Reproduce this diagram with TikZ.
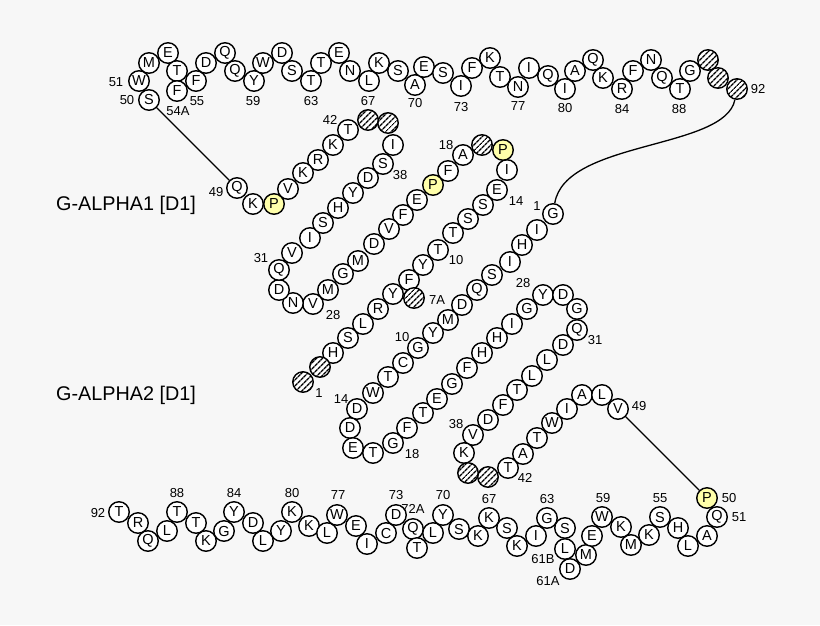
\documentclass[tikz,border=0pt]{standalone}
\usepackage{fontspec}
\setmainfont{Liberation Sans}
\usetikzlibrary{patterns.meta}
\definecolor{bg}{RGB}{247,247,247}
\definecolor{pyel}{RGB}{255,255,170}
\begin{document}
\begin{tikzpicture}[x=1pt,y=-1pt,
  res/.style={circle,draw=black,line width=1.4pt,fill=white,minimum size=20.5pt,inner sep=0pt,font=\fontsize{14.5}{15}\selectfont},
  pro/.style={res,fill=pyel},
  hat/.style={circle,draw=black,line width=1.4pt,minimum size=20.5pt,inner sep=0pt,preaction={fill=white},pattern={Lines[angle=45,distance=4pt,line width=1.5pt]}},
  num/.style={font=\fontsize{13}{14}\selectfont,inner sep=0pt},
  ttl/.style={font=\fontsize{19.8}{22}\selectfont,inner sep=0pt},
  link/.style={line width=1.3pt}]
\fill[bg] (0,0) rectangle (820,625);
% titles
\node[ttl] (title1) at (126,205) {G-ALPHA1 [D1]};
\node[ttl] (title2) at (126,395) {G-ALPHA2 [D1]};
% number labels
\foreach \x/\y/\t [count=\i] in {116/82/51,127/100/50,178/111/54A,197/101/55,253/101/59,311/101/63,368/101/67,415/103/70,461/107/73,518/106/77,565/108/80,622/109/84,679/109/88,758/89/92,
330/120/42,400/175/38,216/192/49,446/145/18,516/201/14,537/206/1,261/258/31,333/315/28,437/300/7A,456/260/10,402/337/10,523/283/28,595/340/31,319/393/1,341/399/14,412/454/18,456/424/38,525/478/42,639/406/49,
98/513/92,177/493/88,234/493/84,292/493/80,338/495/77,396/495/73,413/509/72A,443/495/70,489/499/67,547/499/63,543/559/61B,548/581/61A,603/498/59,660/498/55,739/517/51,729/498/50}
  \node[num] (lab\i) at (\x,\y) {\t};
% top row
\foreach \n/\x/\y/\t in {t50/149/100/S,t51/139/81/W,t52/149/63/M,t53/168/53/E,t54/177/71/T,t54a/177/91/F,t55/196/81/F,t56/206/63/D,t57/225/53/Q,t58/235/71/Q,t59/254/81/Y,t60/263/63/W,t61/282/53/D,t62/292/71/S,t63/311/81/T,t64/321/63/T,t65/339/53/E,t66/350/71/N,t67/369/81/L,t68/379/63/K,t69/398/71/S,t70/415/85/A,t71/424/67/E,t72/443/73/S,t73/461/86/I,t74/472/68/F,t75/490/58/K,t76/500/77/T,t77/518/87/N,t78/529/68/I,t79/548/76/Q,t80/565/89/I,t81/575/71/A,t82/593/60/Q,t83/603/78/K,t84/622/89/R,t85/633/71/F,t86/651/60/N,t87/662/78/Q,t88/680/89/T,t89/690/71/G}
  \node[res] (\n) at (\x,\y) {\t};
\foreach \n/\x/\y in {t90/708/60,t91/718/78,t92/737/89}
  \node[hat] (\n) at (\x,\y) {};
% middle chain C
\foreach \n/\x/\y/\t in {c3/333/353/H,c4/348/338/S,c5/363/324/L,c6/378/309/R,c7/393/294/Y,c8/409/280/F,c9/423/265/Y,c10/438/250/T,c11/453/233/T,c12/468/219/S,c13/483/205/S,c14/497/190/E,c15/507/170/I,c18/463/155/A,c19/448/171/F,c21/417/200/E,c22/403/215/F,c23/389/229/V,c24/374/244/D,c25/358/261/M,c26/343/274/G,c27/328/290/M,c28/313/304/V,c29/293/303/N,c30/279/290/D,c31/279/270/Q,c32/292/253/V,c33/310/238/I,c34/323/223/S,c35/338/208/H,c36/353/193/Y,c37/368/178/D,c38/383/164/S,c39/393/145/I,c42/348/130/T,c43/333/145/K,c44/318/160/R,c45/303/173/K,c46/288/189/V,c48/253/204/K,c49/237/188/Q}
  \node[res] (\n) at (\x,\y) {\t};
\foreach \n/\x/\y in {c1/303/382,c2/320/367,c7a/414/298,c17/482/145,c40/388/123,c41/368/120}
  \node[hat] (\n) at (\x,\y) {};
\foreach \n/\x/\y in {c16/503/150,c20/433/185,c47/274/204}
  \node[pro] (\n) at (\x,\y) {P};
% middle chain D
\foreach \n/\x/\y/\t in {d1/553/214/G,d2/537/230/I,d3/522/245/H,d4/510/262/I,d5/492/275/S,d6/477/290/Q,d7/462/305/D,d8/448/320/M,d9/433/333/Y,d10/418/348/G,d11/403/363/C,d12/388/377/T,d13/373/393/W,d14/357/409/D,d15/350/428/D,d16/353/448/E,d17/373/453/T,d18/393/443/G,d19/407/428/F,d20/423/413/T,d21/437/399/E,d22/452/384/G,d23/467/368/F,d24/482/353/H,d25/497/338/H,d26/512/324/I,d27/527/309/G,d28/543/295/Y,d29/563/295/D,d30/577/309/G,d31/577/330/Q,d32/563/345/D,d33/547/360/L,d34/532/376/L,d35/517/390/T,d36/503/405/F,d37/488/420/D,d38/473/435/V,d39/464/453/K,d42/508/468/T,d43/523/454/A,d44/537/438/T,d45/552/423/W,d46/567/409/I,d47/582/395/A,d48/602/395/L,d49/618/409/V}
  \node[res] (\n) at (\x,\y) {\t};
\foreach \n/\x/\y in {d40/468/473,d41/488/477}
  \node[hat] (\n) at (\x,\y) {};
% bottom row
\foreach \n/\x/\y/\t in {b92/119/512/T,b91/138/523/R,b90/148/541/Q,b89/167/531/L,b88/177/512/T,b87/196/523/T,b86/206/541/K,b85/224/531/G,b84/234/512/Y,b83/253/523/D,b82/263/541/L,b81/281/531/Y,b80/292/512/K,b79/309/526/K,b78/327/533/L,b77/337/515/W,b76/356/526/E,b75/367/544/I,b74/386/533/C,b73/396/515/D,b72a/413/529/Q,b72/417/548/T,b71/433/533/L,b70/443/515/Y,b69/459/529/S,b68/478/536/K,b67/489/518/K,b66/507/528/S,b65/517/546/K,b64/536/536/I,b63/547/518/G,b62/565/528/S,b61b/565/549/L,b61a/570/569/D,b61/586/555/M,b60/592/536/E,b59/602/517/W,b58/621/527/K,b57/631/545/M,b56/649/535/K,b55/660/517/S,b54/678/528/H,b53/688/546/L,b52/707/536/A,b51/717/517/Q}
  \node[res] (\n) at (\x,\y) {\t};
\node[pro] (b50) at (707,498) {P};
% connectors
\draw[link] (t50) -- (c49);
\draw[link] (d49) -- (b50);
\draw[link] (t92) .. controls (725,150) and (565,140) .. (d1);
\end{tikzpicture}
\end{document}
